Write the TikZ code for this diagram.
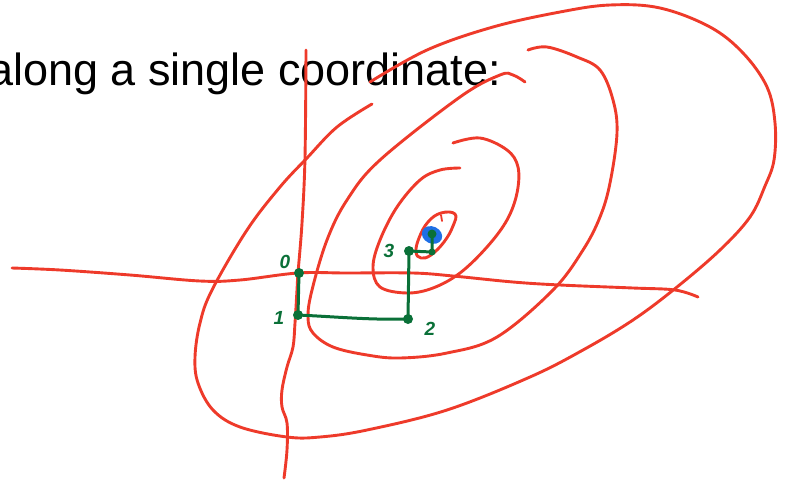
\documentclass[tikz,border=0pt]{standalone}
\usepackage{fontspec}
\setmainfont{Liberation Sans}
\definecolor{pen}{HTML}{EE3A2A}
\definecolor{grn}{HTML}{0A7038}
\definecolor{blu}{HTML}{1E6FE6}
\begin{document}
\begin{tikzpicture}[x=1pt,y=-1pt,
  redline/.style={draw=pen,line width=2.9pt,line cap=round,line join=round},
  grnline/.style={draw=grn,line width=3pt,line cap=round,line join=round},
  dotstyle/.style={fill=grn},
  lab/.style={text=grn,font=\fontsize{19}{19}\selectfont\bfseries\itshape,inner sep=0pt}]
\useasboundingbox (0,0) rectangle (786,482);
% title
\node[anchor=base west,inner sep=0pt,font=\fontsize{45}{50}\selectfont] (title) at (-12,85) {along a single coordinate:};
% axes
\draw[redline] plot[smooth,tension=0.6] coordinates {(12,268) (60,270) (130,275) (200,281) (240,280) (298,273) (347,273) (413,273) (453,276) (513,282) (560,285) (633,288) (675,290) (698,297)};
\draw[redline] plot[smooth,tension=0.6] coordinates {(306,50) (305,157) (302,223) (298,273) (297,290) (295,323) (293,347) (287,367) (282,390) (282,407) (287,423) (287,450) (284,478)};
% outer contour
\draw[redline] plot[smooth,tension=0.6] coordinates {(370,82) (427,50) (493,27) (560,12) (610,5) (660,8) (710,27) (743,53) (767,87) (775,123) (774,160) (765,186) (750,217) (720,250) (677,287) (633,320) (583,350) (530,377) (447,410) (367,430) (320,437) (287,437) (240,427) (213,410) (198,383) (195,357) (200,323) (212,290) (247,230) (280,187) (307,158) (337,127) (372,104)};
% second contour (spiral)
\draw[redline] plot[smooth,tension=0.6] coordinates {(528,50) (547,47) (577,57) (600,70) (613,100) (617,133) (610,183) (600,217) (583,250) (553,290) (497,337) (447,353) (400,358) (367,355) (333,347) (313,333) (308,317) (312,290) (327,240) (347,200) (380,160) (460,97) (500,75) (513,75) (525,82)};
% third contour (spiral)
\draw[redline] plot[smooth,tension=0.6] coordinates {(453,143) (480,138) (507,150) (518,167) (517,193) (507,220) (487,247) (460,273) (433,288) (407,293) (380,287) (373,267) (380,240) (397,207) (420,180) (440,170) (460,168)};
% innermost contour
\draw[redline] plot[smooth cycle,tension=0.7] coordinates {(455,214) (441,213) (428,222) (419,238) (416,252) (421,258) (431,255) (444,242) (453,226)};
\draw[redline,line width=1.8pt] (441,215) -- (442,221);
% minimum
\fill[blu,rotate around={-25:(432,235)}] (432,235) ellipse (10.5 and 8.5);
% coordinate descent path
\coordinate (p0) at (299,273);
\coordinate (p1) at (298,315);
\coordinate (p2) at (408,319);
\coordinate (p3) at (409,251);
\coordinate (p4) at (432,252);
\coordinate (p5) at (432,234);
\draw[grnline] (p0) -- (p1) .. controls (340,317) and (370,320) .. (p2) -- (p3) -- (p4) -- (p5);
\foreach \p in {p0,p1,p2,p3}{\fill[dotstyle] (\p) circle (5);}
\fill[dotstyle] (p4) circle (3.5);
\fill[dotstyle] (p5) circle (4.5);
% labels
\node[lab] (l0) at (285,262) {0};
\node[lab] (l1) at (279,318) {1};
\node[lab] (l2) at (430,329) {2};
\node[lab] (l3) at (389,251) {3};
\end{tikzpicture}
\end{document}
